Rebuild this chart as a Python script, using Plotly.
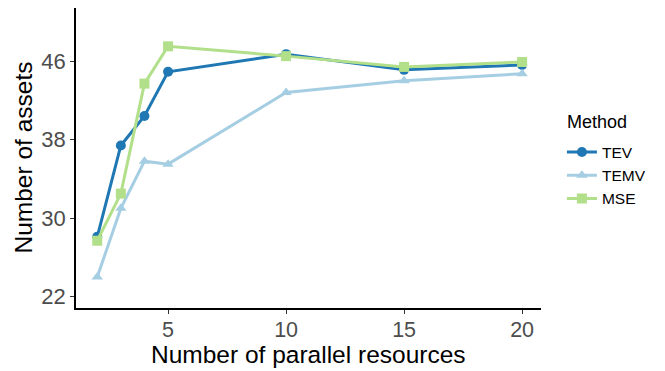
import plotly.graph_objects as go

x_vals = [2, 3, 4, 5, 10, 15, 20]
tev = [28.1, 37.4, 40.4, 44.9, 46.7, 45.1, 45.6]
temv = [24.0, 31.0, 35.8, 35.5, 42.8, 44.0, 44.7]
mse = [27.7, 32.5, 43.7, 47.5, 46.5, 45.4, 45.9]
series = [("TEV", tev, "#1F78B4", "circle"),
          ("TEMV", temv, "#A6CEE3", "triangle-up"),
          ("MSE", mse, "#B2DF8A", "square")]
y_ticks = [22, 30, 38, 46]
x_ticks = [5, 10, 15, 20]

fig = go.Figure()
for name, vals, col, sym in series:
    fig.add_trace(go.Scatter(x=x_vals, y=vals, name=name, mode="lines+markers",
                             line=dict(color=col, width=3),
                             marker=dict(color=col, symbol=sym, size=10)))

font = "Liberation Sans, Arial, sans-serif"
fig.update_layout(
    width=665, height=371,
    margin=dict(l=76, r=124, t=8, b=63),
    plot_bgcolor="white", paper_bgcolor="white",
    font=dict(family=font),
    showlegend=True,
    legend=dict(font=dict(size=15.5, color="black"),
                x=1.045, y=0.575, xanchor="left", yanchor="top",
                tracegroupgap=0, itemwidth=30),
    xaxis=dict(range=[1.1, 20.8], tickvals=x_ticks, showgrid=False, zeroline=False,
               showline=True, linecolor="black", linewidth=1.5, automargin=False,
               ticks="outside", ticklen=4, tickcolor="#333333", ticklabelstandoff=-3,
               tickfont=dict(size=21.5, color="#4D4D4D")),
    yaxis=dict(range=[20.85, 51.4], tickvals=y_ticks, showgrid=False, zeroline=False,
               showline=True, linecolor="black", linewidth=1.5, automargin=False,
               ticks="outside", ticklen=4, tickcolor="#333333",
               tickfont=dict(size=22, color="#4D4D4D")),
    annotations=[
        dict(text="Number of parallel resources", xref="paper", yref="paper",
             x=0.499, y=-0.156, xanchor="center", yanchor="middle", showarrow=False,
             font=dict(size=24.5, color="black")),
        dict(text="Number of assets", xref="paper", yref="paper", textangle=-90,
             x=-0.113, y=0.503, xanchor="center", yanchor="middle", showarrow=False,
             font=dict(size=24.5, color="black")),
        dict(text="Method", xref="paper", yref="paper",
             x=1.0516, y=0.62, xanchor="left", yanchor="middle", showarrow=False,
             font=dict(size=18, color="black")),
    ],
)
fig.write_html("out.html", config={"displayModeBar": False})
with open("out.html", encoding="utf-8") as f:
    html = f.read()
html = html.replace("<head>", "<head><style>html,body{margin:0;padding:0;overflow:hidden;}</style>", 1)
with open("out.html", "w", encoding="utf-8") as f:
    f.write(html)
